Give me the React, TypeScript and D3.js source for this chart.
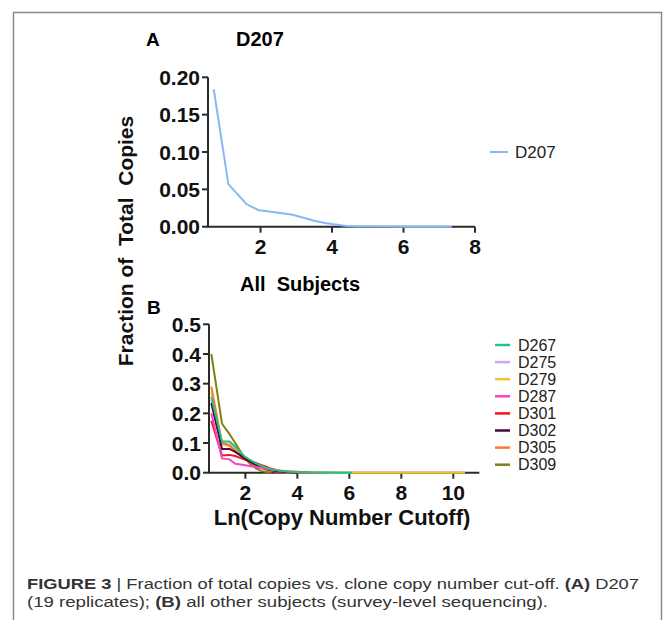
// @ts-nocheck
import React from 'react'
import * as d3 from 'd3'

// Panel A: D207
const xA = [0.69, 1.1, 1.61, 1.95, 2.3, 2.6, 2.9, 3.2, 3.5, 3.8, 4.1, 4.4, 4.7, 5.0, 5.5, 6.0, 6.5, 7.0, 7.35]
const yA = [0.184, 0.057, 0.03, 0.022, 0.02, 0.018, 0.016, 0.012, 0.008, 0.005, 0.003, 0.001, 0.0004, 0.0002, 0.0001, 0, 0, 0, 0]

// Panel B: all other subjects
const xB = [0.69, 1.1, 1.39, 1.61, 1.95, 2.2, 2.4, 2.6, 2.8, 3.0, 3.3, 3.6, 4.0, 4.5, 5.0, 6.1, 7.0, 8.0, 9.0, 10.45]
const subjects = ['D267', 'D275', 'D279', 'D287', 'D301', 'D302', 'D305', 'D309']
const subjectColors = ['#22c47e', '#cfa4f2', '#f7c030', '#f645c8', '#f01818', '#4a0840', '#ff7a2a', '#808010']
const D267 = [0.255, 0.105, 0.105, 0.088, 0.056, 0.042, 0.032, 0.024, 0.017, 0.012, 0.007, 0.004, 0.002, 0.001, 0.0005, 0]
const D275 = [0.245, 0.1, 0.095, 0.08, 0.052, 0.038, 0.028, 0.02, 0.014, 0.01, 0.006, 0.003, 0.001, 0]
const D279 = [0.27, 0.095, 0.09, 0.078, 0.05, 0.036, 0.026, 0.019, 0.013, 0.009, 0.005, 0.003, 0.001, 0.0005, 0.0002, 0.0001, 0, 0, 0, 0]
const D287 = [0.2, 0.048, 0.045, 0.03, 0.026, 0.022, 0.02, 0.017, 0.013, 0.01, 0.007, 0.005, 0.003, 0.001, 0]
const D301 = [0.175, 0.058, 0.06, 0.056, 0.045, 0.038, 0.033, 0.026, 0.02, 0.013, 0.007, 0.003, 0.001, 0]
const D302 = [0.235, 0.08, 0.08, 0.07, 0.05, 0.036, 0.026, 0.018, 0.012, 0.008, 0.004, 0.002, 0]
const D305 = [0.29, 0.1, 0.092, 0.075, 0.048, 0.034, 0.024, 0.016, 0.01, 0.006, 0.003, 0.001, 0]
const D309 = [0.4, 0.165, 0.13, 0.1, 0.052, 0.028, 0.015, 0.006, 0.002, 0]
const seriesB = [D267, D275, D279, D287, D301, D302, D305, D309]
const drawOrder = [1, 2, 6, 7, 4, 5, 3, 0]

const ticksA = [2, 4, 6, 8]
const yTicksA = [0, 0.05, 0.1, 0.15, 0.2]
const ticksB = [2, 4, 6, 8, 10]
const yTicksB = [0, 0.1, 0.2, 0.3, 0.4, 0.5]

const font = "'Liberation Sans', Arial, sans-serif"
const axisColor = '#2b2b2b'

const Axes = ({ x, y, xt, yt, yFmt }) => {
  const [x0, x1] = x.range()
  const [y0, y1] = y.range()
  return (
    <g>
      <line x1={x0} x2={x0} y1={y1} y2={y0} stroke={axisColor} strokeWidth={2} />
      <line x1={x0 - 1} x2={x1} y1={y0} y2={y0} stroke={axisColor} strokeWidth={2} />
      {yt.map((t) => (
        <g key={t}>
          <line x1={x0 - 6} x2={x0} y1={y(t)} y2={y(t)} stroke={axisColor} strokeWidth={2} />
          <text x={x0 - 8} y={y(t)} dy="0.36em" textAnchor="end" fontSize={21} fontWeight="bold" fill="#111">
            {yFmt(t)}
          </text>
        </g>
      ))}
      {xt.map((t) => (
        <g key={t}>
          <line x1={x(t)} x2={x(t)} y1={y0} y2={y0 + 6} stroke={axisColor} strokeWidth={2} />
          <text x={x(t)} y={y0 + 27.5} textAnchor="middle" fontSize={21} fontWeight="bold" fill="#111">
            {t}
          </text>
        </g>
      ))}
    </g>
  )
}

const App = () => {
  const xa = d3.scaleLinear().domain([0.53, 8]).range([208, 475])
  const ya = d3.scaleLinear().domain([0, 0.2]).range([226.7, 77.3])
  const xb = d3.scaleLinear().domain([0.6, 11]).range([209, 479.3])
  const yb = d3.scaleLinear().domain([0, 0.5]).range([472.7, 324.3])

  const lineA = d3
    .line()
    .x((d, i) => xa(xA[i]))
    .y((d) => ya(d))
  const lineB = d3
    .line()
    .x((d, i) => xb(xB[i]))
    .y((d) => yb(d))

  return (
    <svg width={665} height={620} style={{ position: 'absolute', left: 0, top: 0 }} fontFamily={font}>
      <rect x={0} y={0} width={665} height={620} fill="#fff" />
      <path d="M13.5,640 V12.5 H661.5 V640" fill="none" stroke="#8a8a8a" strokeWidth={1.5} />

      <text x={146} y={46} fontSize={19} fontWeight="bold">A</text>
      <text x={236} y={46} fontSize={20} fontWeight="bold">D207</text>
      <text x={300} y={291} textAnchor="middle" fontSize={20} fontWeight="bold" style={{ whiteSpace: 'pre' }}>
        {'All  Subjects'}
      </text>
      <text x={147} y={314} fontSize={19} fontWeight="bold">B</text>
      <text
        transform="translate(133, 241) rotate(-90)"
        textAnchor="middle"
        fontSize={21}
        fontWeight="bold"
        fill="#111"
        style={{ whiteSpace: 'pre' }}
      >
        {'Fraction of  Total  Copies'}
      </text>
      <text x={342} y={525} textAnchor="middle" fontSize={22} fontWeight="bold" fill="#111">
        Ln(Copy Number Cutoff)
      </text>

      <Axes x={xa} y={ya} xt={ticksA} yt={yTicksA} yFmt={d3.format('.2f')} />
      <path d={lineA(yA)} fill="none" stroke="#8ab8f4" strokeWidth={2} />
      <line x1={490} x2={508} y1={152} y2={152} stroke="#8ab8f4" strokeWidth={2} />
      <text x={515} y={152} dy="0.36em" fontSize={17} fill="#222">D207</text>

      <Axes x={xb} y={yb} xt={ticksB} yt={yTicksB} yFmt={d3.format('.1f')} />
      {drawOrder.map((k) => (
        <path key={k} d={lineB(seriesB[k])} fill="none" stroke={subjectColors[k]} strokeWidth={2} />
      ))}
      {subjects.map((s, i) => (
        <g key={s} transform={`translate(0, ${345 + i * 17.1})`}>
          <line x1={495} x2={510} y1={0} y2={0} stroke={subjectColors[i]} strokeWidth={2.5} />
          <text x={518} y={0} dy="0.36em" fontSize={16} fill="#222">{s}</text>
        </g>
      ))}

      <text x={27} y={589} fontSize={15.5} fill="#333" textLength={612} lengthAdjust="spacingAndGlyphs">
        <tspan fontWeight="bold">FIGURE 3</tspan> | Fraction of total copies vs. clone copy number cut-off.{' '}
        <tspan fontWeight="bold">(A)</tspan> D207
      </text>
      <text x={27} y={607} fontSize={15.5} fill="#333" textLength={521} lengthAdjust="spacingAndGlyphs">
        (19 replicates); <tspan fontWeight="bold">(B)</tspan> all other subjects (survey-level sequencing).
      </text>
    </svg>
  )
}

export default App
